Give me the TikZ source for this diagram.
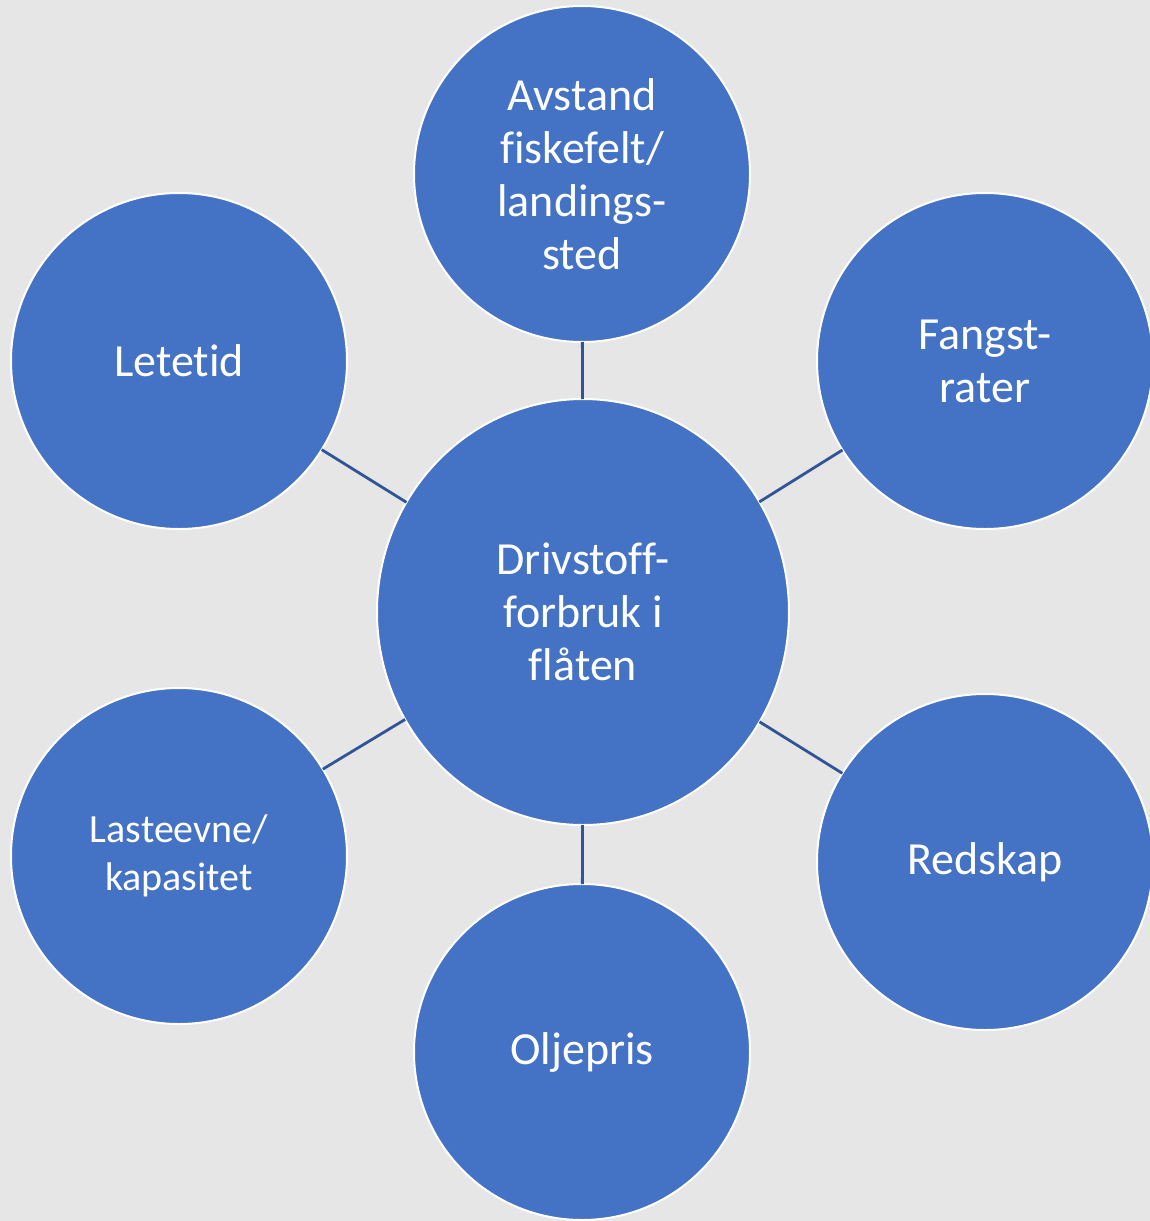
\documentclass[tikz,border=0pt]{standalone}
\usepackage{fontspec}
\setmainfont{Carlito}[Ligatures={NoCommon}]
\usetikzlibrary{shapes.geometric}
\definecolor{pagebg}{HTML}{E7E6E6}
\definecolor{nodeblue}{HTML}{4472C4}
\definecolor{linkblue}{HTML}{2F5597}
\tikzset{
  bubble/.style={circle, fill=nodeblue, draw=white, line width=2pt,
    minimum size=336pt, inner sep=0pt, outer sep=0pt, text=white,
    align=center, font=\fontsize{46}{53}\selectfont},
  hub/.style={ellipse, fill=nodeblue, draw=white, line width=2pt,
    minimum width=412pt, minimum height=426pt, inner sep=0pt, outer sep=0pt,
    text=white, align=center, font=\fontsize{46}{53}\selectfont},
  link/.style={draw=linkblue, line width=2.8pt}
}
\begin{document}
\begin{tikzpicture}[x=1pt, y=-1pt]
  \useasboundingbox (0,0) rectangle (1150,1221);
  \clip (0,0) rectangle (1150,1221);
  \fill[pagebg] (0,0) rectangle (1150,1221);

  % hub and surrounding factors
  \node[hub] (hub) at (583,612) {Drivstoff-\\forbruk i\\flåten};
  \node[bubble] (avstand) at (582,174) {Avstand\\fiskefelt/\\landings-\\sted};
  \node[bubble] (fangst) at (985,361) {Fangst-\\rater};
  \node[bubble] (redskap) at (985,862) {Redskap};
  \node[bubble] (olje) at (582,1052) {Oljepris};
  \node[bubble, font=\fontsize{40}{47.5}\selectfont] (laste) at (179,856) {Lasteevne/\\kapasitet};
  \node[bubble] (lete) at (179,361) {Letetid};

  % spokes
  \foreach \n in {avstand,fangst,redskap,olje,laste,lete}
    \draw[link] (hub) -- (\n);
\end{tikzpicture}
\end{document}
